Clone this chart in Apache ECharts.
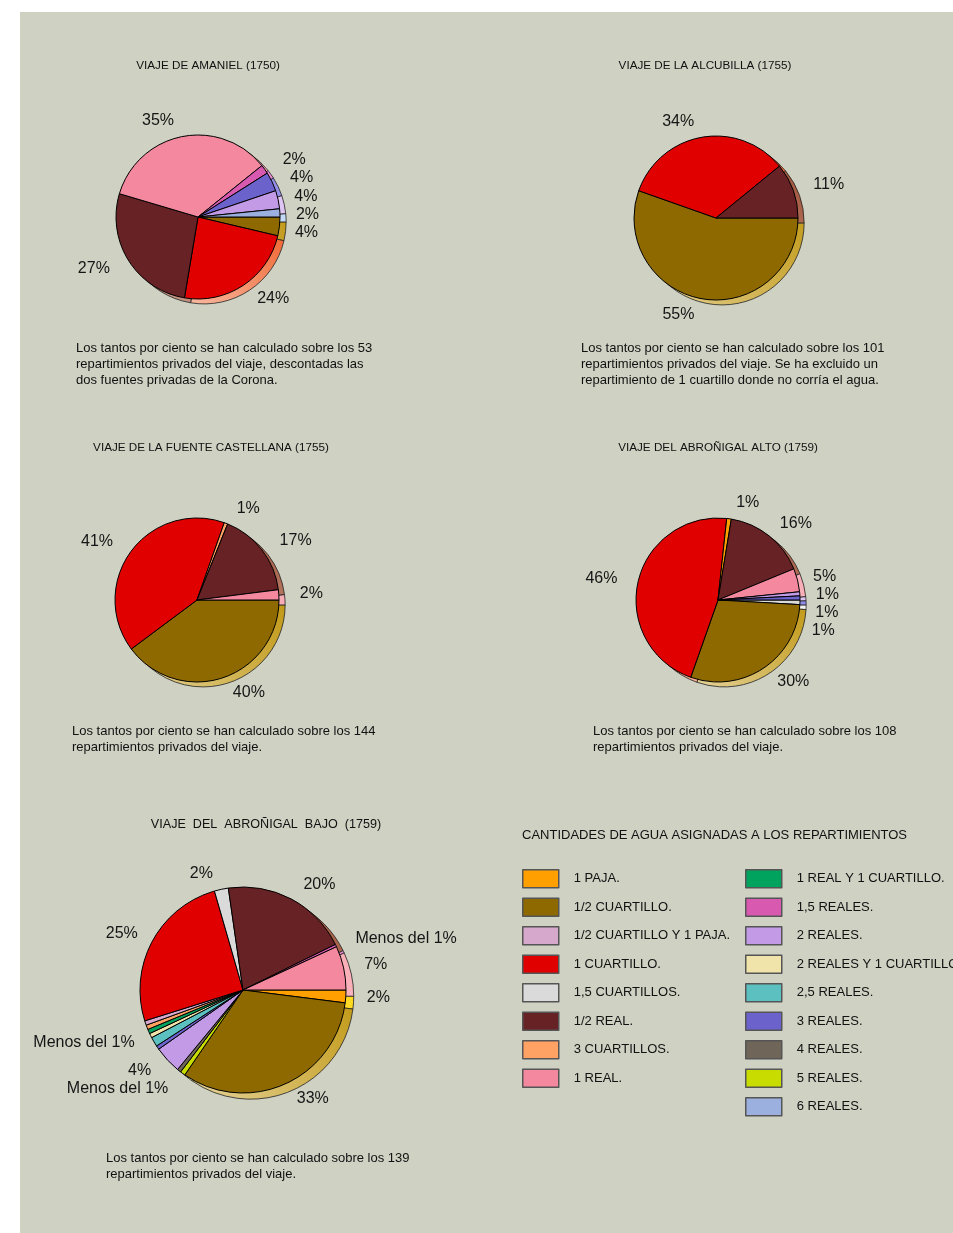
<!DOCTYPE html>
<html>
<head>
<meta charset="utf-8">
<script src="https://cdn.jsdelivr.net/npm/echarts@6/dist/echarts.min.js"></script>
<style>
  body { margin: 0; background: #fff; }
  #panel { position: absolute; left: 20px; top: 12px; width: 933px; height: 1221px; background: #cfd1c3; }
  #chart { position: absolute; left: 0; top: 0; width: 953px; height: 1233px; }
</style>
</head>
<body>
<div id="panel"></div>
<div id="chart"></div>
<script>
  // categorias de agua (orden de la leyenda)
  const categories = [
    '1 PAJA', '1/2 CUARTILLO', '1/2 CUARTILLO Y 1 PAJA', '1 CUARTILLO', '1,5 CUARTILLOS',
    '1/2 REAL', '3 CUARTILLOS', '1 REAL',
    '1 REAL Y 1 CUARTILLO', '1,5 REALES', '2 REALES', '2 REALES Y 1 CUARTILLO', '2,5 REALES',
    '3 REALES', '4 REALES', '5 REALES', '6 REALES'
  ];
  const colors = [
    '#ffa000', '#8d6900', '#d6a8cc', '#e00000', '#dadada',
    '#662224', '#ffa264', '#f4889e',
    '#00a35e', '#d85ab0', '#c29ae6', '#f1e4aa', '#5bc0bf',
    '#6b62cc', '#706559', '#c8dc00', '#9bb0df'
  ];
  // color del canto (la "sombra" 3D)
  const sideColors = [
    '#ffd81c', '#c29a18', '#ecc8e2', '#f0622c', '#f2f2f2',
    '#9c4a2e', '#ffc090', '#f8aab4',
    '#3cc080', '#ea86d0', '#dcc2f2', '#f8f0c8', '#92e0e0',
    '#8c88e6', '#928878', '#e6f240', '#c2d8f6'
  ];

  // VIAJE DE AMANIEL (1750)
  const amanielNames = ['1/2 CUARTILLO', '1 CUARTILLO', '1/2 REAL', '1 REAL', '1,5 REALES', '3 REALES', '2 REALES', '6 REALES'];
  const amanielValues = [3.7, 24.0, 27.0, 34.7, 1.8, 3.8, 3.6, 1.6];
  const amanielLabels = ['4%', '24%', '27%', '35%', '2%', '4%', '4%', '2%'];

  // VIAJE DE LA ALCUBILLA (1755)
  const alcubillaNames = ['1/2 CUARTILLO', '1 CUARTILLO', '1/2 REAL'];
  const alcubillaValues = [55.4, 33.7, 10.9];
  const alcubillaLabels = ['55%', '34%', '11%'];

  // VIAJE DE LA FUENTE CASTELLANA (1755)
  const castellanaNames = ['1/2 CUARTILLO', '1 CUARTILLO', '3 CUARTILLOS', '1/2 REAL', '1 REAL'];
  const castellanaValues = [39.8, 40.6, 0.7, 16.9, 2.0];
  const castellanaLabels = ['40%', '41%', '1%', '17%', '2%'];

  // VIAJE DEL ABROÑIGAL ALTO (1759)
  const altoNames = ['1,5 CUARTILLOS', '1/2 CUARTILLO', '1 CUARTILLO', '1 PAJA', '1/2 REAL', '1 REAL', '2 REALES', '3 REALES'];
  const altoValues = [0.9, 29.5, 46.3, 0.9, 16.2, 4.6, 0.8, 0.8];
  const altoLabels = ['1%', '30%', '46%', '1%', '16%', '5%', '1%', '1%'];

  // VIAJE DEL ABROÑIGAL BAJO (1759)
  const bajoNames = ['1 PAJA', '1/2 CUARTILLO', '5 REALES', '4 REALES', '2 REALES', '3 REALES', '2,5 REALES',
    '2 REALES Y 1 CUARTILLO', '1 REAL Y 1 CUARTILLO', '3 CUARTILLOS', '1/2 CUARTILLO Y 1 PAJA',
    '1 CUARTILLO', '1,5 CUARTILLOS', '1/2 REAL', '1,5 REALES', '1 REAL'];
  const bajoValues = [2.0, 32.6, 0.8, 0.6, 4.3, 0.6, 1.5, 0.7, 0.7, 0.7, 0.7, 25.4, 2.2, 20.0, 0.4, 6.9];
  const bajoLabels = ['2%', '33%', 'Menos del 1%', '', '4%', '', '', 'Menos del 1%', '', '', '',
    '25%', '2%', '20%', 'Menos del 1%', '7%'];

  const legendLeft = categories.slice(0, 8);
  const legendRight = categories.slice(8);

  const FONT = '"Liberation Sans", Arial, sans-serif';

  function colorOf(name) { return colors[categories.indexOf(name)]; }
  function sideOf(name) { return sideColors[categories.indexOf(name)]; }
  function lighten(hex, t) {
    let n = parseInt(hex.slice(1), 16);
    let r = (n >> 16) & 255, g = (n >> 8) & 255, b = n & 255;
    r = Math.round(r + (255 - r) * t); g = Math.round(g + (255 - g) * t); b = Math.round(b + (255 - b) * t);
    return 'rgb(' + r + ',' + g + ',' + b + ')';
  }

  function makePie(names, values, labels, center, radius) {
    return {
      type: 'pie',
      center: center,
      radius: radius,
      startAngle: 0,
      clockwise: true,
      z: 3,
      animation: false,
      avoidLabelOverlap: true,
      emphasis: { disabled: true },
      itemStyle: { borderColor: '#000', borderWidth: 1 },
      label: { position: 'outside', fontFamily: FONT, fontSize: 16, color: '#151515' },
      labelLine: { show: false, length: 16, length2: 0 },
      data: names.map((n, i) => ({
        name: n,
        value: values[i],
        itemStyle: { color: colorOf(n) },
        label: labels[i] ? { show: true, formatter: labels[i] } : { show: false }
      }))
    };
  }

  // canto del disco: mismo pie desplazado abajo a la derecha
  function makeEdge(names, values, center, radius) {
    let off = [radius * 0.075, radius * 0.06];
    return {
      type: 'pie',
      center: [center[0] + off[0], center[1] + off[1]],
      radius: radius,
      startAngle: 0,
      clockwise: true,
      z: 1,
      silent: true,
      animation: false,
      emphasis: { disabled: true },
      label: { show: false },
      labelLine: { show: false },
      itemStyle: { borderColor: '#222', borderWidth: 0.8 },
      data: names.map((n, i) => ({
        name: n,
        value: values[i],
        itemStyle: {
          color: new echarts.graphic.LinearGradient(1, 0, 0, 1, [
            { offset: 0, color: sideOf(n) },
            { offset: 1, color: lighten(sideOf(n), 0.55) }
          ])
        }
      }))
    };
  }

  const pies = [
    [amanielNames, amanielValues, amanielLabels, [198, 217], 82],
    [alcubillaNames, alcubillaValues, alcubillaLabels, [716, 218], 82],
    [castellanaNames, castellanaValues, castellanaLabels, [197, 600], 82],
    [altoNames, altoValues, altoLabels, [718, 600], 82],
    [bajoNames, bajoValues, bajoLabels, [243, 990], 103]
  ];

  let series = [];
  pies.forEach(p => series.push(makePie(p[0], p[1], p[2], p[3], p[4])));
  pies.forEach(p => series.push(makeEdge(p[0], p[1], p[3], p[4])));

  function titleText(text, x, y, size) {
    return { type: 'text', x: x, y: y, z: 10,
      style: { text: text, align: 'center', verticalAlign: 'middle', font: (size || 11.7) + 'px ' + FONT, fill: '#111' } };
  }
  function noteText(text, x, y) {
    return { type: 'text', x: x, y: y - 8, z: 10,
      style: { text: text, align: 'left', verticalAlign: 'top', lineHeight: 16, font: '13px ' + FONT, fill: '#111' } };
  }

  function makeLegend(names, left) {
    return {
      orient: 'vertical',
      left: left,
      top: 869,
      padding: 0,
      icon: 'rect',
      itemWidth: 36,
      itemHeight: 18,
      itemGap: 9,
      selectedMode: false,
      itemStyle: { borderColor: '#555', borderWidth: 1.5 },
      textStyle: { fontFamily: FONT, fontSize: 13, color: '#111', padding: [0, 0, 0, 10] },
      formatter: n => n + '.',
      data: names.map(n => ({ name: n, itemStyle: { color: colorOf(n) } }))
    };
  }

  let myChart = echarts.init(document.getElementById('chart'));
  let option = {
    animation: false,
    legend: [makeLegend(legendLeft, 522), makeLegend(legendRight, 745)],
    graphic: [
      titleText('VIAJE DE AMANIEL (1750)', 208, 66),
      titleText('VIAJE DE LA ALCUBILLA (1755)', 705, 66),
      titleText('VIAJE DE LA FUENTE CASTELLANA (1755)', 211, 448),
      titleText('VIAJE DEL ABROÑIGAL ALTO (1759)', 718, 448),
      titleText('VIAJE  DEL  ABROÑIGAL  BAJO  (1759)', 266, 825, 12.6),
      { type: 'text', x: 522, y: 835, z: 10,
        style: { text: 'CANTIDADES DE AGUA ASIGNADAS A LOS REPARTIMIENTOS', align: 'left', verticalAlign: 'middle',
          font: '13px ' + FONT, fill: '#111' } },
      noteText('Los tantos por ciento se han calculado sobre los 53\nrepartimientos privados del viaje, descontadas las\ndos fuentes privadas de la Corona.', 76, 348),
      noteText('Los tantos por ciento se han calculado sobre los 101\nrepartimientos privados del viaje. Se ha excluido un\nrepartimiento de 1 cuartillo donde no corría el agua.', 581, 348),
      noteText('Los tantos por ciento se han calculado sobre los 144\nrepartimientos privados del viaje.', 72, 731),
      noteText('Los tantos por ciento se han calculado sobre los 108\nrepartimientos privados del viaje.', 593, 731),
      noteText('Los tantos por ciento se han calculado sobre los 139\nrepartimientos privados del viaje.', 106, 1158)
    ],
    series: series
  };
  myChart.setOption(option);
</script>
</body>
</html>
